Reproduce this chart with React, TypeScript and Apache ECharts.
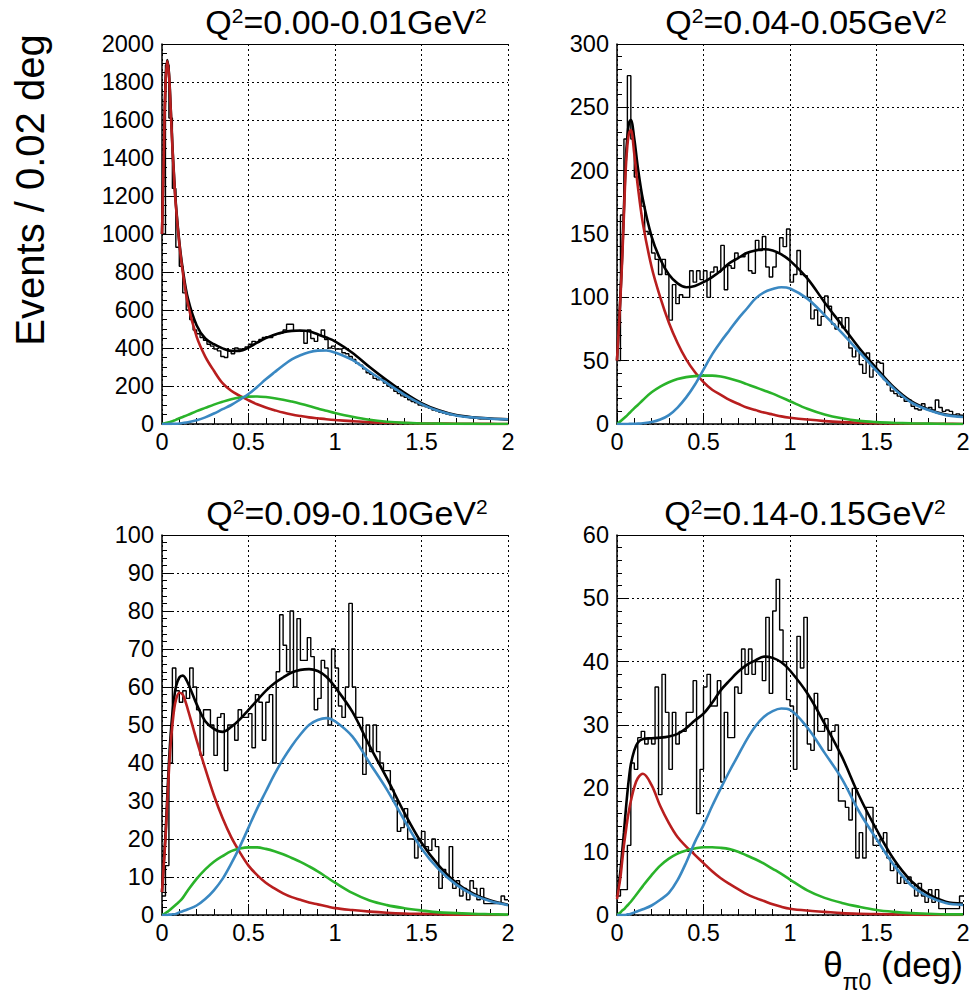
import React, { useEffect, useRef } from 'react';
import * as echarts from 'echarts';

const FONT = "'Liberation Sans', Arial, Helvetica, sans-serif";
const BIN_W = 0.02;
const Q2_RANGES = ['0.00-0.01', '0.04-0.05', '0.09-0.10', '0.14-0.15'];
const Y_MAX = [2000, 300, 100, 60];
const Y_STEP = [200, 50, 10, 10];
const Y_MINOR = [4, 5, 5, 5];
const X_TICK_STEP = 0.5;

const XS = [0, 0.01, 0.02, 0.03, 0.04, 0.05, 0.06, 0.07, 0.08, 0.1, 0.12, 0.15, 0.2, 0.25, 0.3, 0.35, 0.4, 0.45, 0.5, 0.55, 0.6, 0.65, 0.7, 0.75, 0.8, 0.85, 0.9, 0.95, 1.0, 1.1, 1.2, 1.3, 1.4, 1.5, 1.6, 1.7, 1.8, 1.9, 2.0];

// Panel 1: Q2 = 0.00-0.01
const HIST1 = [1000, 1890, 1610, 1240, 930, 830, 690, 600, 550, 495,
  475, 455, 440, 420, 410, 395, 385, 355, 350, 385,
  370, 400, 395, 390, 405, 420, 435, 430, 445, 455,
  460, 455, 470, 475, 478, 495, 525, 525, 490, 492,
  488, 425, 495, 450, 435, 468, 495, 445, 400, 410,
  395, 395, 375, 370, 355, 340, 320, 310, 290, 270,
  262, 240, 232, 238, 215, 200, 190, 172, 160, 148,
  140, 128, 118, 112, 100, 96, 90, 82, 74, 70,
  62, 58, 52, 48, 46, 42, 40, 36, 34, 32,
  30, 28, 30, 27, 26, 28, 25, 24, 22, 22];
const RED1 = [1000, 1400, 1780, 1910, 1840, 1660, 1460, 1290, 1150, 950, 800, 630, 460, 355, 280, 215, 175, 148, 125, 104, 87, 73, 60, 50, 42, 35, 30, 25, 21, 15, 10, 7, 5, 3, 2, 1.5, 1, 0.5, 0];
const GREEN1 = [0, 2, 5, 7, 9, 12, 15, 18, 22, 30, 37, 48, 68, 85, 102, 117, 130, 139, 144, 145, 142, 136, 128, 118, 107, 95, 82, 70, 58, 38, 22, 12, 6, 3, 2, 1, 0.5, 0.3, 0];
const BLUE1 = [0, 0, 0, 0, 0.5, 0.5, 1, 1, 1.5, 3, 5, 9, 20, 35, 55, 78, 100, 128, 158, 195, 235, 272, 308, 340, 362, 378, 386, 387, 376, 337, 275, 215, 155, 105, 68, 45, 34, 28, 25];
const BLACK1 = [1000, 1400, 1785, 1915, 1850, 1670, 1470, 1300, 1160, 960, 815, 660, 520, 450, 420, 398, 385, 385, 402, 428, 452, 470, 483, 490, 492, 488, 472, 455, 435, 375, 300, 230, 165, 110, 72, 47, 35, 29, 25];

// Panel 2: Q2 = 0.04-0.05
const HIST2 = [50, 165, 225, 275, 225, 195, 185, 172, 152, 150,
  135, 130, 118, 130, 118, 82, 110, 95, 102, 100,
  100, 121, 112, 121, 114, 121, 100, 120, 124, 120,
  141, 106, 125, 123, 135, 132, 132, 135, 121, 119,
  145, 137, 148, 124, 116, 124, 135, 147, 140, 154,
  112, 118, 137, 118, 117, 100, 83, 90, 78, 85,
  101, 93, 79, 75, 84, 76, 84, 60, 53, 58,
  47, 40, 56, 37, 43, 49, 48, 35, 31, 26,
  24, 22, 21, 18, 19, 14, 12, 11, 16, 12,
  13, 11, 19, 13, 10, 11, 10, 7, 8, 7];
const RED2 = [50, 75, 100, 130, 165, 200, 220, 230, 232, 213, 188, 158, 124, 100, 80, 64, 51, 41, 33, 27, 23, 19, 16, 13, 11, 9, 7.5, 6, 5, 3.5, 2.3, 1.5, 1, 0.7, 0.5, 0.3, 0.2, 0.1, 0];
const GREEN2 = [0, 1, 2.2, 3.4, 4.6, 5.8, 7, 8.4, 9.8, 12.5, 15, 19, 25, 29.5, 33, 35.5, 37, 37.8, 38.2, 38.2, 37.5, 36, 34, 31.5, 29, 26.5, 24, 21, 18, 12, 7.5, 4.5, 2.5, 1.5, 0.9, 0.5, 0.3, 0.1, 0];
const BLUE2 = [0, 0, 0, 0, 0, 0, 0, 0.1, 0.1, 0.2, 0.3, 0.6, 1.5, 3.5, 7, 13, 21, 31, 43, 55, 65, 74, 83, 91, 99, 104, 106.5, 108, 107, 99, 86, 72, 57, 42, 28, 17, 11, 7, 5.5];
const BLACK2 = [50, 76, 102, 134, 170, 206, 227, 238, 240, 225, 203, 177, 148, 130, 118, 111, 108, 109, 112, 116, 121, 127, 131, 135, 137, 138, 137, 134, 129, 115, 96, 78, 60, 44, 29, 18, 11.5, 7.5, 6];

// Panel 3: Q2 = 0.09-0.10
const HIST3 = [5, 13, 40, 65, 59, 56, 59, 57, 65, 60,
  54, 42, 54, 54, 50, 42, 52, 53, 38, 50,
  50, 46, 54, 52, 52, 53, 44, 58, 56, 46,
  56, 58, 40, 64, 79, 71, 64, 80, 60, 78,
  67, 67, 73, 68, 54, 57, 67, 65, 50, 70,
  65, 55, 52, 60, 82, 60, 52, 52, 37, 50,
  43, 50, 43, 40, 38, 38, 33, 30, 22, 23,
  28, 20, 20, 15, 20, 22, 18, 17, 20, 18,
  7, 12, 10, 18, 7, 9, 5, 7, 4, 9,
  7, 4, 7, 3, 3, 3, 3, 3, 5, 4];
const RED3 = [6, 13, 20, 29, 38, 45, 50, 54, 56.5, 58.5, 58, 54, 46, 38.5, 31.5, 25.5, 20.5, 16.5, 13, 10.5, 8.5, 7, 5.7, 4.7, 4, 3.3, 2.8, 2.3, 1.8, 1.3, 0.9, 0.6, 0.4, 0.3, 0.2, 0.1, 0.1, 0, 0];
const GREEN3 = [0, 0.2, 0.5, 0.8, 1.1, 1.5, 1.9, 2.3, 2.7, 3.5, 4.5, 6.5, 9.5, 12, 14, 15.5, 16.8, 17.5, 17.8, 17.8, 17.4, 16.8, 16, 15, 14, 12.8, 11.5, 10, 8.5, 5.8, 3.8, 2.6, 1.8, 1.2, 0.7, 0.5, 0.3, 0.2, 0.1];
const BLUE3 = [0, 0, 0, 0, 0.1, 0.1, 0.2, 0.2, 0.3, 0.7, 1, 1.5, 2.5, 4.2, 6.5, 9.5, 13.5, 18, 23, 28, 32.5, 37, 41, 44.5, 47.5, 50, 51.3, 51.8, 51, 47, 40, 33, 25, 17.5, 12, 8, 5.3, 3.6, 2.6];
const BLACK3 = [6, 13.5, 21, 30.5, 40, 47.5, 53, 57, 60, 62.5, 63, 61, 55.5, 51, 49, 48.2, 49.5, 51.5, 54, 56.5, 59, 61, 62.5, 63.8, 64.5, 64.7, 64.2, 62.7, 60, 53.5, 44.5, 36, 27, 19, 13, 8.5, 5.6, 3.8, 2.7];

// Panel 4: Q2 = 0.14-0.15
const HIST4 = [3, 4, 4, 11, 24, 23, 28, 29, 27, 28,
  27, 36, 19, 38, 32, 23, 32, 27, 29, 29,
  32, 32, 37, 16, 23, 36, 38, 33, 33, 37,
  21, 32, 28, 28, 36, 35, 42, 38, 42, 38,
  40, 40, 37, 47, 35, 48, 53, 45, 40, 34,
  33, 23, 44, 39, 47, 27, 26, 35, 29, 29,
  31, 26, 29, 30, 18, 18, 17, 15, 20, 9,
  13, 9, 17, 17, 11, 11, 12, 13, 9, 7,
  8, 5, 6, 5, 6, 5, 3, 5, 3, 2,
  4, 2, 4, 1, 1, 1, 1, 1, 1, 3];
const RED4 = [2.5, 4.2, 6, 8.5, 11, 13, 15, 16.6, 18, 20.2, 21.6, 22.3, 20.5, 17.2, 14.5, 12.3, 10.8, 9.5, 8.2, 6.9, 5.8, 4.9, 4.1, 3.3, 2.7, 2.2, 1.7, 1.3, 1.0, 0.7, 0.5, 0.3, 0.2, 0.15, 0.1, 0.05, 0, 0, 0];
const GREEN4 = [0, 0.2, 0.4, 0.7, 0.9, 1.2, 1.5, 1.8, 2.1, 2.8, 3.5, 4.6, 6.3, 7.8, 8.9, 9.7, 10.2, 10.5, 10.7, 10.7, 10.6, 10.4, 10, 9.4, 8.8, 8.1, 7.3, 6.5, 5.6, 3.9, 2.7, 1.9, 1.3, 0.8, 0.5, 0.3, 0.2, 0.1, 0.1];
const BLUE4 = [0, 0, 0, 0, 0, 0, 0.1, 0.1, 0.2, 0.4, 0.6, 0.9, 1.5, 2.4, 3.5, 5.5, 8.3, 11.5, 14.2, 17.2, 20, 22.7, 25.2, 27.7, 29.8, 31.3, 32.2, 32.6, 32.4, 29.6, 25.6, 21.5, 16.3, 12, 7.9, 4.7, 2.9, 1.9, 1.6];
const BLACK4 = [2.9, 4.8, 7, 10, 13, 16.3, 19.3, 21.8, 23.8, 26, 27.2, 27.8, 27.9, 28, 28.2, 28.6, 29.5, 30.7, 31.8, 33.5, 35.5, 37, 38.4, 39.5, 40.2, 40.8, 40.6, 39.9, 38.6, 35, 30.2, 25, 18.8, 13.5, 8.8, 5.4, 3.3, 2.1, 1.8];

const PANELS = [
  { hist: HIST1, red: RED1, green: GREEN1, blue: BLUE1, black: BLACK1 },
  { hist: HIST2, red: RED2, green: GREEN2, blue: BLUE2, black: BLACK2 },
  { hist: HIST3, red: RED3, green: GREEN3, blue: BLUE3, black: BLACK3 },
  { hist: HIST4, red: RED4, green: GREEN4, blue: BLUE4, black: BLACK4 },
];

// layout
const GRID_POS = [
  { left: 162, top: 44 },
  { left: 617, top: 44 },
  { left: 162, top: 535 },
  { left: 617, top: 535 },
];
const GRID_W = 346;
const GRID_H = 380;
const TITLE_POS = [
  { x: 346, y: 22 },
  { x: 806, y: 22 },
  { x: 347, y: 513 },
  { x: 805, y: 513 },
];

const COLORS = { red: '#b81e1e', green: '#2ab32a', blue: '#3a88c2', black: '#000000' };

function buildOption() {
  const grid: any[] = [];
  const xAxis: any[] = [];
  const yAxis: any[] = [];
  const series: any[] = [];

  PANELS.forEach((p, i) => {
    grid.push({ left: GRID_POS[i].left, top: GRID_POS[i].top, width: GRID_W, height: GRID_H, containLabel: false });
    xAxis.push({
      type: 'value', gridIndex: i, min: 0, max: 2, interval: X_TICK_STEP,
      axisLine: { show: true, onZero: false, lineStyle: { color: '#000', width: 1.5 } },
      axisTick: { show: true, inside: true, length: 11, lineStyle: { color: '#000', width: 1 } },
      minorTick: { show: true, splitNumber: 5, length: 6, lineStyle: { color: '#000', width: 1 } },
      axisLabel: { show: true, color: '#000', fontSize: 23.5, fontFamily: FONT, margin: 6, showMinLabel: true, showMaxLabel: true, hideOverlap: false, formatter: (v: number) => String(v) },
      splitLine: { show: true, lineStyle: { color: '#000', width: 1, type: [2, 3] } },
    });
    // top frame line
    xAxis.push({
      type: 'value', gridIndex: i, min: 0, max: 2, position: 'top',
      axisLine: { show: true, onZero: false, lineStyle: { color: '#000', width: 1 } },
      axisTick: { show: false }, axisLabel: { show: false }, splitLine: { show: false },
    });
    yAxis.push({
      type: 'value', gridIndex: i, min: 0, max: Y_MAX[i], interval: Y_STEP[i],
      axisLine: { show: true, onZero: false, lineStyle: { color: '#000', width: 1.5 } },
      axisTick: { show: true, inside: true, length: 10, lineStyle: { color: '#000', width: 1 } },
      minorTick: { show: true, splitNumber: Y_MINOR[i], length: 5, lineStyle: { color: '#000', width: 1 } },
      axisLabel: { show: true, color: '#000', fontSize: 23.5, fontFamily: FONT, margin: 8, showMinLabel: true, showMaxLabel: true, hideOverlap: false, formatter: (v: number) => String(v) },
      splitLine: { show: true, lineStyle: { color: '#000', width: 1, type: [2, 3] } },
    });

    const xi = i * 2;
    const histData = p.hist.map((v, k) => [k * BIN_W, v]);
    histData.push([p.hist.length * BIN_W, p.hist[p.hist.length - 1]]);
    series.push({
      type: 'line', xAxisIndex: xi, yAxisIndex: i, step: 'end', data: histData,
      symbol: 'none', showSymbol: false, lineStyle: { color: '#000', width: 1.4 }, z: 2, silent: true,
    });
    const curve = (vals: number[], color: string, z: number) => ({
      type: 'line', xAxisIndex: xi, yAxisIndex: i, data: XS.map((x, k) => [x, vals[k]]),
      smooth: 0.35, symbol: 'none', showSymbol: false, lineStyle: { color, width: 2.6 }, z, silent: true,
    });
    series.push(curve(p.black, COLORS.black, 3));
    series.push(curve(p.red, COLORS.red, 4));
    series.push(curve(p.green, COLORS.green, 5));
    series.push(curve(p.blue, COLORS.blue, 6));
  });

  const graphic: any[] = TITLE_POS.map((pos, i) => ({
    type: 'text', x: pos.x, y: pos.y, z: 100,
    style: {
      text: `{n|Q}{s|2}{n|=${Q2_RANGES[i]}GeV}{s|2}`,
      align: 'center', verticalAlign: 'middle', fill: '#000',
      rich: {
        n: { fontSize: 34, fontFamily: FONT, fill: '#000', lineHeight: 34, verticalAlign: 'middle' },
        s: { fontSize: 21, fontFamily: FONT, fill: '#000', lineHeight: 21, verticalAlign: 'top' },
      },
    },
  }));
  graphic.push({
    type: 'text', x: 30, y: 190, rotation: Math.PI / 2, z: 100,
    style: { text: 'Events / 0.02 deg', fontSize: 40, fontFamily: FONT, fill: '#000', align: 'center', verticalAlign: 'middle' },
  });
  graphic.push({
    type: 'text', x: 893, y: 970, z: 100,
    style: {
      text: '{n|θ}{b|π0}{n| (deg)}',
      align: 'center', verticalAlign: 'middle', fill: '#000',
      rich: {
        n: { fontSize: 35, fontFamily: FONT, fill: '#000', lineHeight: 46, verticalAlign: 'top' },
        b: { fontSize: 23, fontFamily: FONT, fill: '#000', lineHeight: 46, verticalAlign: 'bottom' },
      },
    },
  });

  return { animation: false, backgroundColor: '#fff', grid, xAxis, yAxis, series, graphic };
}

export default function App() {
  const ref = useRef<HTMLDivElement>(null);
  useEffect(() => {
    if (!ref.current) return;
    const chart = echarts.init(ref.current, undefined, { renderer: 'svg' });
    chart.setOption(buildOption());
    return () => chart.dispose();
  }, []);
  return <div ref={ref} style={{ position: 'fixed', left: 0, top: 0, width: 974, height: 1004, background: '#fff' }} />;
}
